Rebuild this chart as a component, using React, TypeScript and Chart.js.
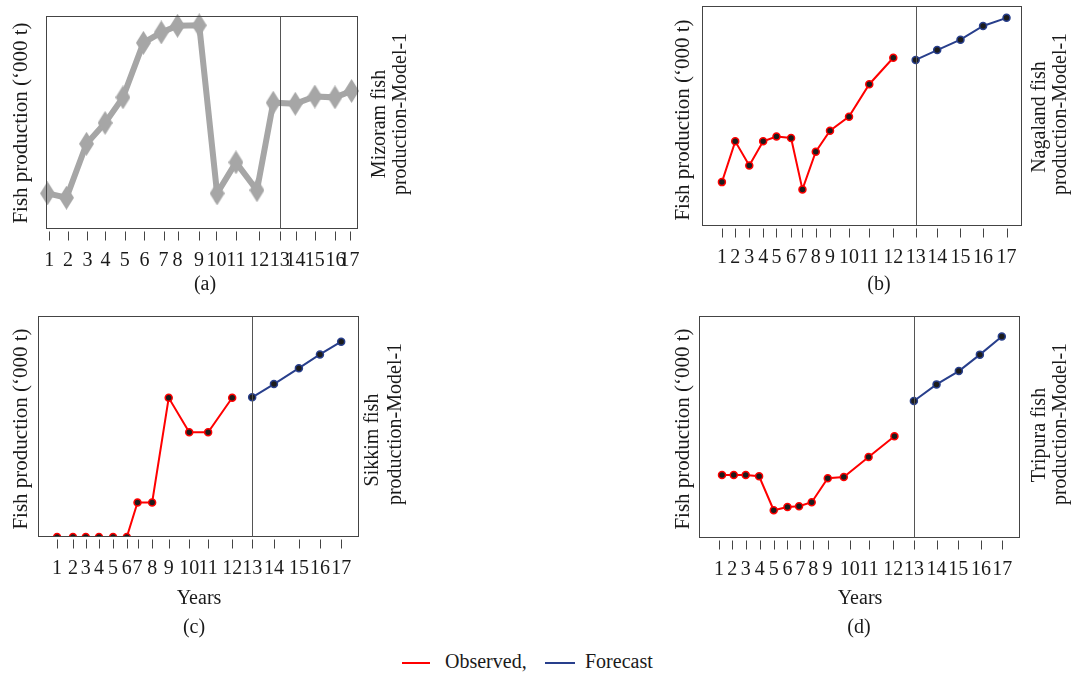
import React, { useEffect, useRef } from "react";
import { Chart, registerables } from "chart.js";

Chart.register(...registerables);

// ---------- data ----------
const YEAR_LABELS = ["1", "2", "3", "4", "5", "6", "7", "8", "9", "10", "11", "12", "13", "14", "15", "16", "17"];

// positions of the year ticks along each panel's x axis (axis runs 0..18)
const mizoramTickPos = [0.19, 1.27, 2.39, 3.43, 4.55, 5.68, 6.78, 7.59, 8.82, 9.83, 10.96, 12.3, 13.49, 14.4, 15.51, 16.7, 17.51];
const mizoramPointPos = [0.09, 1.18, 2.34, 3.41, 4.44, 5.62, 6.65, 7.59, 8.84, 9.87, 10.96, 12.17, 13.11, 14.38, 15.51, 16.67, 17.63];
const mizoramValues = [16.7, 14.7, 40.0, 49.8, 61.8, 87.4, 92.3, 95.4, 95.6, 16.7, 31.3, 18.2, 59.3, 58.8, 62.2, 61.8, 64.8];

const nagalandTickPos = [1.12, 1.87, 2.66, 3.44, 4.19, 5.01, 5.65, 6.4, 7.2, 8.27, 9.41, 10.76, 12.02, 13.23, 14.54, 15.81, 17.13];
const nagalandObserved = [19.9, 38.4, 27.4, 38.4, 40.6, 39.9, 16.6, 33.7, 43.2, 49.6, 64.3, 76.3];
const nagalandForecast = [75.3, 79.8, 84.5, 90.7, 94.4];

const sikkimTickPos = [1.07, 1.96, 2.68, 3.42, 4.21, 4.98, 5.58, 6.4, 7.33, 8.48, 9.54, 10.89, 12.01, 13.23, 14.63, 15.81, 17.0];
const sikkimObserved = [0, 0, 0, 0, 0, 0, 15.6, 15.6, 63.0, 47.4, 47.4, 63.0];
const sikkimForecast = [63.2, 69.2, 76.4, 82.6, 88.4];

const tripuraTickPos = [1.12, 1.87, 2.62, 3.41, 4.19, 4.96, 5.69, 6.4, 7.21, 8.46, 9.54, 10.89, 12.05, 13.32, 14.54, 15.81, 17.01];
const tripuraPointPos = [1.29, 1.95, 2.62, 3.37, 4.19, 4.96, 5.61, 6.32, 7.22, 8.12, 9.51, 10.96, 12.05, 13.32, 14.57, 15.75, 16.98];
const tripuraObserved = [28.4, 28.4, 28.4, 27.8, 12.5, 14.0, 14.3, 16.1, 26.9, 27.5, 36.5, 45.8];
const tripuraForecast = [61.7, 69.2, 75.2, 82.6, 90.8];

// ---------- styles ----------
const FONT = '"Liberation Serif", "Times New Roman", serif';
const TEXT = "#1a1a1a";
const RED = "#ff0000";
const BLUE = "#283f8c";
const GRAY = "#a6a6a6";
const FRAME = "#444444";

type Box = { l: number; r: number; t: number; b: number };

function makeDiamond(): HTMLCanvasElement {
  const c = document.createElement("canvas");
  c.width = 15;
  c.height = 24;
  const ctx = c.getContext("2d")!;
  ctx.fillStyle = GRAY;
  ctx.beginPath();
  ctx.moveTo(7.5, 0);
  ctx.lineTo(15, 12);
  ctx.lineTo(7.5, 24);
  ctx.lineTo(0, 12);
  ctx.closePath();
  ctx.fill();
  return c;
}

type PanelProps = {
  box: Box;
  tickPos: number[];
  datasets: any[];
  splitIndex: number;
};

function Panel({ box, tickPos, datasets, splitIndex }: PanelProps) {
  const ref = useRef<HTMLCanvasElement>(null);
  const AXIS_H = 50;
  const cl = Math.floor(box.l - 12);
  const ct = Math.max(0, Math.floor(box.t - 12));
  const cw = Math.ceil(box.r + 12) - cl;
  const ch = Math.ceil(box.b + AXIS_H) - ct;

  useEffect(() => {
    const framePlugin = {
      id: "frame",
      afterDatasetsDraw(chart: any) {
        const { ctx, chartArea } = chart;
        const xs = chart.scales.x;
        ctx.save();
        ctx.strokeStyle = FRAME;
        ctx.lineWidth = 1;
        const L = Math.round(chartArea.left) + 0.5;
        const R = Math.round(chartArea.right) - 0.5;
        const T = Math.round(chartArea.top) + 0.5;
        const B = Math.round(chartArea.bottom) - 0.5;
        ctx.strokeRect(L, T, R - L, B - T);
        // split line at forecast start
        const sx = Math.round(xs.getPixelForValue(tickPos[splitIndex])) + 0.5;
        ctx.strokeStyle = "#555555";
        ctx.beginPath();
        ctx.moveTo(sx, T);
        ctx.lineTo(sx, B);
        ctx.stroke();
        // tick marks
        ctx.strokeStyle = FRAME;
        ctx.beginPath();
        tickPos.forEach((v) => {
          const px = Math.round(xs.getPixelForValue(v)) + 0.5;
          ctx.moveTo(px, B + 3);
          ctx.lineTo(px, B + 12);
        });
        ctx.stroke();
        ctx.restore();
      },
    };

    const chart = new Chart(ref.current!, {
      type: "line",
      data: { datasets },
      options: {
        animation: false,
        responsive: false,
        maintainAspectRatio: false,
        layout: {
          padding: {
            left: box.l - cl,
            right: cl + cw - box.r,
            top: box.t - ct,
            bottom: ct + ch - (box.b + AXIS_H),
          },
        },
        plugins: { legend: { display: false }, tooltip: { enabled: false } },
        scales: {
          x: {
            type: "linear",
            min: 0,
            max: 18,
            grid: { display: false },
            border: { display: false },
            afterBuildTicks: (s: any) => {
              s.ticks = tickPos.map((v) => ({ value: v }));
            },
            afterFit: (s: any) => {
              s.height = AXIS_H;
            },
            ticks: {
              autoSkip: false,
              maxRotation: 0,
              minRotation: 0,
              padding: 12,
              color: TEXT,
              font: { family: FONT, size: 20 },
              callback: (_v: any, i: number) => YEAR_LABELS[i],
            },
          },
          y: { display: false, min: 0, max: 100 },
        },
      } as any,
      plugins: [framePlugin],
    });
    return () => chart.destroy();
  }, []);

  return (
    <canvas
      ref={ref}
      width={cw}
      height={ch}
      style={{ position: "absolute", left: cl, top: ct, width: cw, height: ch }}
    />
  );
}

function Txt({ x, y, children, size = 20, rotate = false, align = "center" }: any) {
  const tx = align === "left" ? "0" : "-50%";
  return (
    <div
      style={{
        position: "absolute",
        left: x,
        top: y,
        transform: rotate ? `translate(-50%,-50%) rotate(-90deg)` : `translate(${tx},-50%)`,
        whiteSpace: "nowrap",
        fontFamily: FONT,
        fontSize: size,
        lineHeight: "1",
        color: TEXT,
      }}
    >
      {children}
    </div>
  );
}

function toPts(values: number[], pos: number[], offset = 0) {
  return values.map((y, i) => ({ x: pos[i + offset], y }));
}

function obsSet(values: number[], pos: number[]) {
  return {
    data: toPts(values, pos),
    borderColor: RED,
    borderWidth: 2,
    pointRadius: 3.5,
    pointBackgroundColor: "#1c1c1c",
    pointBorderColor: RED,
    pointBorderWidth: 1.5,
    tension: 0,
  };
}

function fcSet(values: number[], pos: number[]) {
  return {
    data: toPts(values, pos, 12),
    borderColor: BLUE,
    borderWidth: 2,
    pointRadius: 3.5,
    pointBackgroundColor: "#1c1c1c",
    pointBorderColor: BLUE,
    pointBorderWidth: 1.5,
    tension: 0,
  };
}

export default function App() {
  const diamond = makeDiamond();
  const yTitle = "Fish production (\u2018000 t)";

  const boxA: Box = { l: 42, r: 362, t: 7, b: 229 };
  const boxB: Box = { l: 702, r: 1022, t: 4, b: 226 };
  const boxC: Box = { l: 38, r: 359, t: 316, b: 537 };
  const boxD: Box = { l: 699, r: 1020, t: 316, b: 538 };

  const dsA = [
    {
      data: toPts(mizoramValues, mizoramPointPos),
      borderColor: GRAY,
      borderWidth: 6,
      pointStyle: diamond,
      pointRadius: 10,
      tension: 0,
      clip: false,
    },
  ];

  return (
    <div style={{ position: "absolute", left: 0, top: 0, width: 1074, height: 674, background: "#fff", overflow: "hidden" }}>
      <Panel box={boxA} tickPos={mizoramTickPos} datasets={dsA} splitIndex={12} />
      <Panel box={boxB} tickPos={nagalandTickPos} datasets={[obsSet(nagalandObserved, nagalandTickPos), fcSet(nagalandForecast, nagalandTickPos)]} splitIndex={12} />
      <Panel box={boxC} tickPos={sikkimTickPos} datasets={[obsSet(sikkimObserved, sikkimTickPos), fcSet(sikkimForecast, sikkimTickPos)]} splitIndex={12} />
      <Panel box={boxD} tickPos={tripuraTickPos} datasets={[obsSet(tripuraObserved, tripuraPointPos), fcSet(tripuraForecast, tripuraPointPos)]} splitIndex={12} />

      {/* y titles */}
      <Txt x={20} y={122.5} size={21} rotate>{yTitle}</Txt>
      <Txt x={682} y={119.5} size={21} rotate>{yTitle}</Txt>
      <Txt x={20} y={429} size={21} rotate>{yTitle}</Txt>
      <Txt x={682} y={429} size={21} rotate>{yTitle}</Txt>

      {/* right-side titles */}
      <Txt x={378.3} y={124} rotate>Mizoram fish</Txt>
      <Txt x={399.3} y={114} rotate>production-Model-1</Txt>
      <Txt x={1038.3} y={117} rotate>Nagaland fish</Txt>
      <Txt x={1059.3} y={113.5} rotate>production-Model-1</Txt>
      <Txt x={371.3} y={440} rotate>Sikkim fish</Txt>
      <Txt x={394.3} y={424} rotate>production-Model-1</Txt>
      <Txt x={1038.3} y={435} rotate>Tripura fish</Txt>
      <Txt x={1059.3} y={424} rotate>production-Model-1</Txt>

      {/* panel captions */}
      <Txt x={205} y={283}>(a)</Txt>
      <Txt x={879} y={283}>(b)</Txt>
      <Txt x={199} y={596.5}>Years</Txt>
      <Txt x={194} y={625.5}>(c)</Txt>
      <Txt x={860} y={596.5}>Years</Txt>
      <Txt x={859} y={625.5}>(d)</Txt>

      {/* legend */}
      <div style={{ position: "absolute", left: 402, top: 661.5, width: 28, height: 2, background: RED }} />
      <Txt x={445} y={660.5} align="left">Observed,</Txt>
      <div style={{ position: "absolute", left: 545, top: 661.5, width: 30, height: 2, background: BLUE }} />
      <Txt x={585} y={660.5} align="left">Forecast</Txt>
    </div>
  );
}
